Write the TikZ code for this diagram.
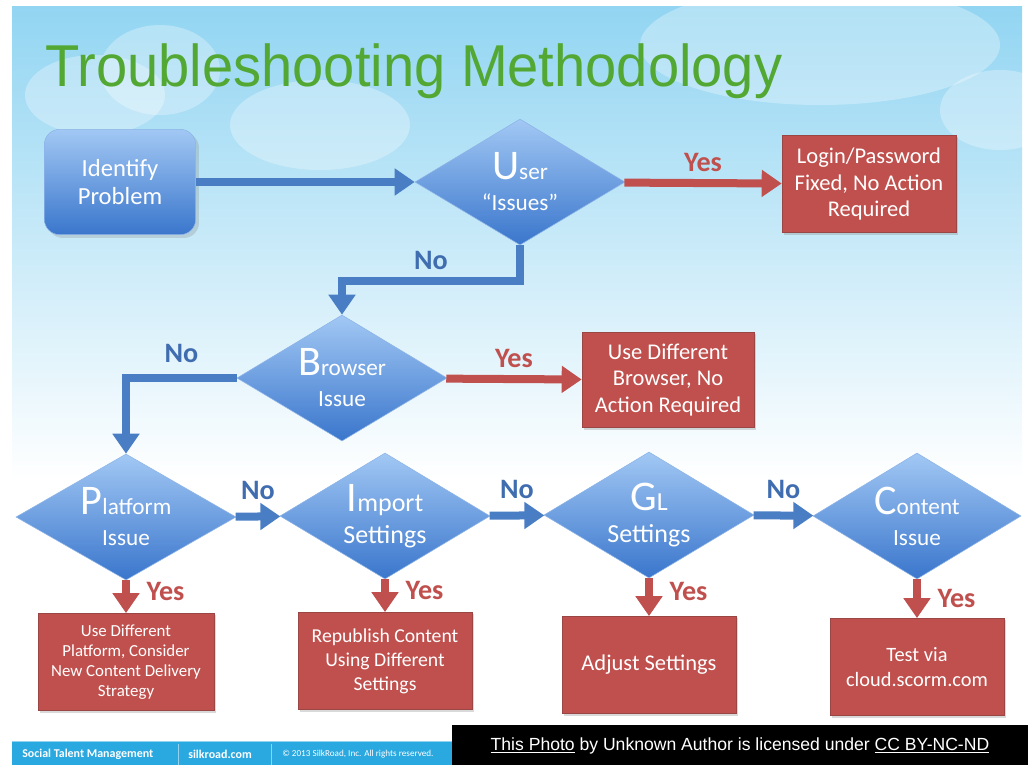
\documentclass[tikz,border=0pt]{standalone}
\usepackage{fontspec}
\setmainfont{Carlito}
\newfontfamily\titlefont[FakeStretch=0.95]{Liberation Sans}
\newfontfamily\notefont{Liberation Sans}
\usetikzlibrary{arrows.meta,positioning,calc,shapes.geometric,shadows}
\definecolor{sky}{HTML}{92D5F2}
\definecolor{flowblue}{HTML}{4A7EC4}
\definecolor{dtop}{HTML}{A2C8F4}
\definecolor{dbot}{HTML}{3A76CC}
\definecolor{dedge}{HTML}{8DB4E8}
\definecolor{yesred}{HTML}{C0504D}
\definecolor{boxedge}{HTML}{9A4644}
\definecolor{notext}{HTML}{3F6DAF}
\definecolor{titlegreen}{HTML}{52A832}
\definecolor{footblue}{HTML}{2AA8E0}
\newcommand{\capletter}[1]{{\fontsize{30}{30}\selectfont #1}}
\tikzset{
  start/.style={rounded corners=0.38cm,top color=dtop,bottom color=dbot,draw=dedge,
    text=white,align=center,minimum width=3.78cm,minimum height=2.63cm,
    font=\fontsize{17.5}{20.5}\selectfont,drop shadow={opacity=0.25}},
  decision/.style={diamond,aspect=1.65,inner sep=0pt,minimum width=5.25cm,
    minimum height=3.15cm,top color=dtop,bottom color=dbot,draw=dedge,
    text=white,align=center,font=\fontsize{16.5}{22}\selectfont},
  action/.style={draw=boxedge,fill=yesred,text=white,align=center,
    minimum width=4.35cm,minimum height=2.43cm,
    font=\fontsize{16}{18.8}\selectfont,
    drop shadow={opacity=0.3,shadow xshift=0.05cm,shadow yshift=-0.05cm}},
  noarrow/.style={draw=flowblue,line width=0.2cm,-{Triangle[length=0.5cm,width=0.65cm]}},
  yesarrow/.style={draw=yesred,line width=0.2cm,-{Triangle[length=0.5cm,width=0.65cm]}},
  yeslabel/.style={font=\bfseries\fontsize{20}{22}\selectfont,text=yesred},
  nolabel/.style={font=\bfseries\fontsize{20}{22}\selectfont,text=notext}
}
\begin{document}
\begin{tikzpicture}[x=0.025cm,y=-0.025cm]
\useasboundingbox (0,0) rectangle (1028,765);
% sky and clouds
\fill[top color=sky,bottom color=white] (12,6) rectangle (1022,480);
\begin{scope}[white,opacity=0.3]
  \fill (95,95) ellipse (70 and 40);
  \fill (160,70) ellipse (60 and 45);
  \fill (320,125) ellipse (90 and 45);
  \fill (820,45) ellipse (180 and 60);
  \fill (1000,110) ellipse (60 and 40);
\end{scope}
\node[anchor=base west,text=titlegreen,font=\titlefont\fontsize{42}{42}\selectfont,inner sep=0pt]
  (title) at (45,86) {Troubleshooting Methodology};

% nodes
\node[start] (idp) at (120,182) {Identify\\Problem};
\node[decision] (user) at (520,182) {\capletter{U}ser\\“Issues”};
\node[action] (loginfix) at (869,184) {Login/Password\\Fixed, No Action\\Required};
\node[decision] (browser) at (342,378) {\capletter{B}rowser\\Issue};
\node[action,minimum width=4.3cm,minimum height=2.38cm] (newbrowser) at (668,380) {Use Different\\Browser, No\\Action Required};
\node[decision,minimum width=5.5cm] (platform) at (126,517) {\capletter{P}latform\\Issue};
\node[decision,font=\fontsize{18.5}{23}\selectfont] (import) at (385,516) {\capletter{I}mport\\Settings};
\node[decision,font=\fontsize{18.5}{23}\selectfont] (glset) at (649,515) {\capletter{G}L\\Settings};
\node[decision,minimum width=5.2cm] (content) at (917,516) {\capletter{C}ontent\\Issue};
\node[action,minimum width=4.4cm,font=\fontsize{12}{14.2}\selectfont] (newplatform) at (126,662)
  {Use Different\\Platform, Consider\\New Content Delivery\\Strategy};
\node[action,font=\fontsize{14}{17}\selectfont] (republish) at (385,661)
  {Republish Content\\Using Different\\Settings};
\node[action,font=\fontsize{16}{18}\selectfont] (adjust) at (649,665) {Adjust Settings};
\node[action,font=\fontsize{14.5}{17.7}\selectfont] (scormtest) at (917,667) {Test via\\cloud.scorm.com};

% connectors
\draw[noarrow] (idp) -- (user);
\draw[yesarrow] (user) -- node[yeslabel,above=2pt] (yes1) {Yes} (loginfix);
\draw[noarrow] (user.south) -- ++(0,36) -| node[nolabel,pos=0.25,above=2pt] (no1) {No} (browser.north);
\draw[yesarrow] (browser) -- node[yeslabel,above=2pt] (yes2) {Yes} (newbrowser);
\draw[noarrow] (browser.west) -| node[nolabel,pos=0.25,above=5pt] (no2) {No} (platform.north);
\draw[noarrow] (platform) -- node[nolabel,above=6pt] (no3) {No} (import);
\draw[noarrow] (import) -- node[nolabel,above=6pt] (no4) {No} (glset);
\draw[noarrow] (glset) -- node[nolabel,above=6pt] (no5) {No} (content);
\draw[yesarrow] (platform.south) -- node[yeslabel,right=0.3cm,yshift=4pt] (yes3) {Yes} (newplatform.north);
\draw[yesarrow] (import.south) -- node[yeslabel,right=0.3cm,yshift=4pt] (yes4) {Yes} (republish.north);
\draw[yesarrow] (glset.south) -- node[yeslabel,right=0.3cm,yshift=4pt] (yes5) {Yes} (adjust.north);
\draw[yesarrow] (content.south) -- node[yeslabel,right=0.3cm] (yes6) {Yes} (scormtest.north);

% footer
\fill[footblue] (12,741) rectangle (455,765);
\draw[white,opacity=0.5] (12,741) -- (455,741) (178,744) -- (178,765) (271,744) -- (271,765);
\node[anchor=west,text=white,font=\bfseries\fontsize{8.5}{9}\selectfont,inner sep=0pt] (brand) at (22,754) {Social Talent Management};
\node[anchor=west,text=white,font=\bfseries\fontsize{8.5}{9}\selectfont,inner sep=0pt] (site) at (188,754) {silkroad.com};
\node[anchor=west,text=white,font=\fontsize{6.5}{7}\selectfont,inner sep=0pt] (rights) at (282,754) {© 2013 SilkRoad, Inc. All rights reserved.};
\fill[black] (452,725) rectangle (1028,765);
\node[text=white,font=\notefont\fontsize{12.5}{14}\selectfont] (credit) at (740,746)
  {\underline{This Photo} by Unknown Author is licensed under \underline{CC BY-NC-ND}};
\end{tikzpicture}
\end{document}
